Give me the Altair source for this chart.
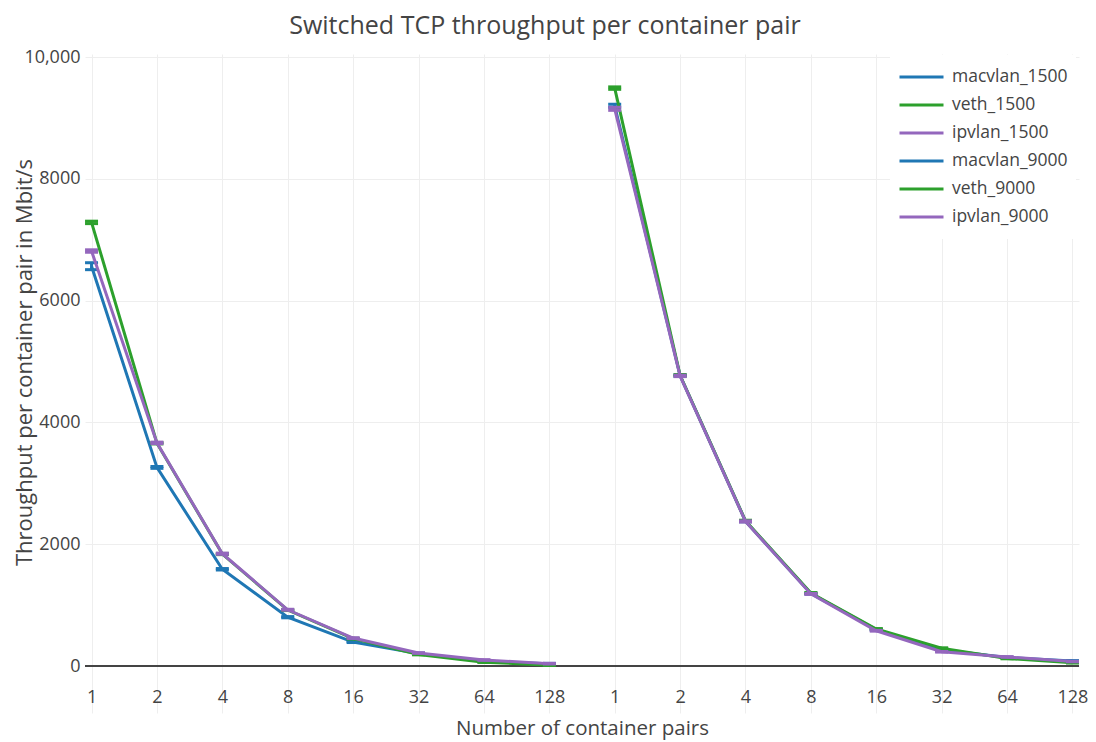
import altair as alt
import pandas as pd

# ---- data ----
cats = ["1", "2", "4", "8", "16", "32", "64", "128"]
series_names = ["macvlan_1500", "veth_1500", "ipvlan_1500",
                "macvlan_9000", "veth_9000", "ipvlan_9000"]
series_groups = ["1500", "1500", "1500", "9000", "9000", "9000"]
series_colors = ["#1f77b4", "#2ca02c", "#9467bd", "#1f77b4", "#2ca02c", "#9467bd"]

macvlan_1500 = [6566, 3262, 1590, 803, 395, 205, 80, 40]
veth_1500 = [7285, 3660, 1840, 920, 450, 190, 65, 15]
ipvlan_1500 = [6815, 3665, 1845, 925, 460, 215, 100, 40]
macvlan_9000 = [9200, 4770, 2380, 1190, 600, 270, 140, 85]
veth_9000 = [9490, 4775, 2385, 1200, 610, 295, 125, 55]
ipvlan_9000 = [9150, 4765, 2375, 1185, 580, 235, 150, 75]

macvlan_1500_err = [57, 15, 12, 10, 8, 6, 5, 5]
veth_1500_err = [20, 12, 10, 8, 6, 5, 5, 5]
ipvlan_1500_err = [20, 12, 10, 8, 6, 5, 5, 5]
macvlan_9000_err = [25, 12, 10, 8, 6, 5, 5, 5]
veth_9000_err = [20, 12, 10, 8, 6, 5, 5, 5]
ipvlan_9000_err = [25, 12, 10, 8, 6, 5, 5, 5]

values = [macvlan_1500, veth_1500, ipvlan_1500, macvlan_9000, veth_9000, ipvlan_9000]
errors = [macvlan_1500_err, veth_1500_err, ipvlan_1500_err,
          macvlan_9000_err, veth_9000_err, ipvlan_9000_err]

rows = []
for name, grp, vals, errs in zip(series_names, series_groups, values, errors):
    for c, v, e in zip(cats, vals, errs):
        rows.append({"series": name, "key": f"{c}|{grp}", "value": v,
                     "lo": v - e, "hi": v + e})
df = pd.DataFrame(rows)

x_domain = [f"{c}|1500" for c in cats] + [f"{c}|9000" for c in cats]

TEXT = "#444444"
GRID = "#eeeeee"

x_enc = alt.X(
    "key:O",
    scale=alt.Scale(type="point", domain=x_domain, padding=0.1),
    axis=alt.Axis(
        labelExpr="split(datum.value, '|')[0]",
        labelAngle=0, labelFontSize=18, labelColor=TEXT, labelPadding=-25,
        domain=False, ticks=False, grid=True, gridColor=GRID, gridWidth=1,
        title="Number of container pairs", titleFontSize=20.5, titleColor=TEXT,
        titleFontWeight="normal", titleBaseline="middle", titleY=15,
    ),
)
y_scale = alt.Scale(domain=[-770, 10050], nice=False, zero=False)
y_axis = alt.Axis(
    values=[0, 2000, 4000, 6000, 8000, 10000],
    labelExpr="datum.value >= 10000 ? format(datum.value, ',') : format(datum.value, 'd')",
    labelFontSize=18, labelColor=TEXT, labelPadding=5,
    domain=False, ticks=False, grid=True, gridColor=GRID, gridWidth=1,
    title="Throughput per container pair in Mbit/s", titleFontSize=22,
    titleColor=TEXT, titleFontWeight="normal", titleBaseline="middle",
    titleX=-61, titleY=308, titleAngle=-90,
)
color_enc = alt.Color(
    "series:N",
    scale=alt.Scale(domain=series_names, range=series_colors),
    legend=alt.Legend(
        title=None, orient="none", legendX=805, legendY=1,
        symbolType="stroke", symbolSize=1936, symbolStrokeWidth=3,
        labelFontSize=17.5, labelColor=TEXT, labelOffset=7,
        fillColor="white", padding=8, rowPadding=0, clipHeight=28,
    ),
)

base = alt.Chart(df)

zero = alt.Chart(df).mark_rule(color=TEXT, strokeWidth=2).encode(y=alt.datum(0, scale=y_scale))

layers = [zero]
for name in series_names:
    sub = base.transform_filter(alt.datum.series == name)
    line = sub.mark_line(strokeWidth=3).encode(
        x=x_enc, y=alt.Y("value:Q", scale=y_scale, axis=y_axis), color=color_enc)
    bar = sub.mark_rule(strokeWidth=3).encode(
        x=x_enc, y=alt.Y("lo:Q", scale=y_scale), y2="hi:Q", color=color_enc)
    cap_lo = sub.mark_tick(size=13, thickness=3, opacity=1).encode(
        x=x_enc, y=alt.Y("lo:Q", scale=y_scale), color=color_enc)
    cap_hi = sub.mark_tick(size=13, thickness=3, opacity=1).encode(
        x=x_enc, y=alt.Y("hi:Q", scale=y_scale), color=color_enc)
    layers += [line, bar, cap_lo, cap_hi]

chart = alt.layer(*layers).properties(
    width=994, height=659,
    autosize=alt.AutoSizeParams(type="none"),
    padding={"left": 77, "top": 46, "right": 9, "bottom": 30},
    title=alt.TitleParams(
        "Switched TCP throughput per container pair",
        fontSize=25, font="Open Sans", color=TEXT, fontWeight="normal",
        anchor="middle", dx=-37, offset=9,
    ),
).configure(font="Open Sans").configure_view(stroke=None)

chart.save("out.html", embed_options={"renderer": "svg", "actions": False})
